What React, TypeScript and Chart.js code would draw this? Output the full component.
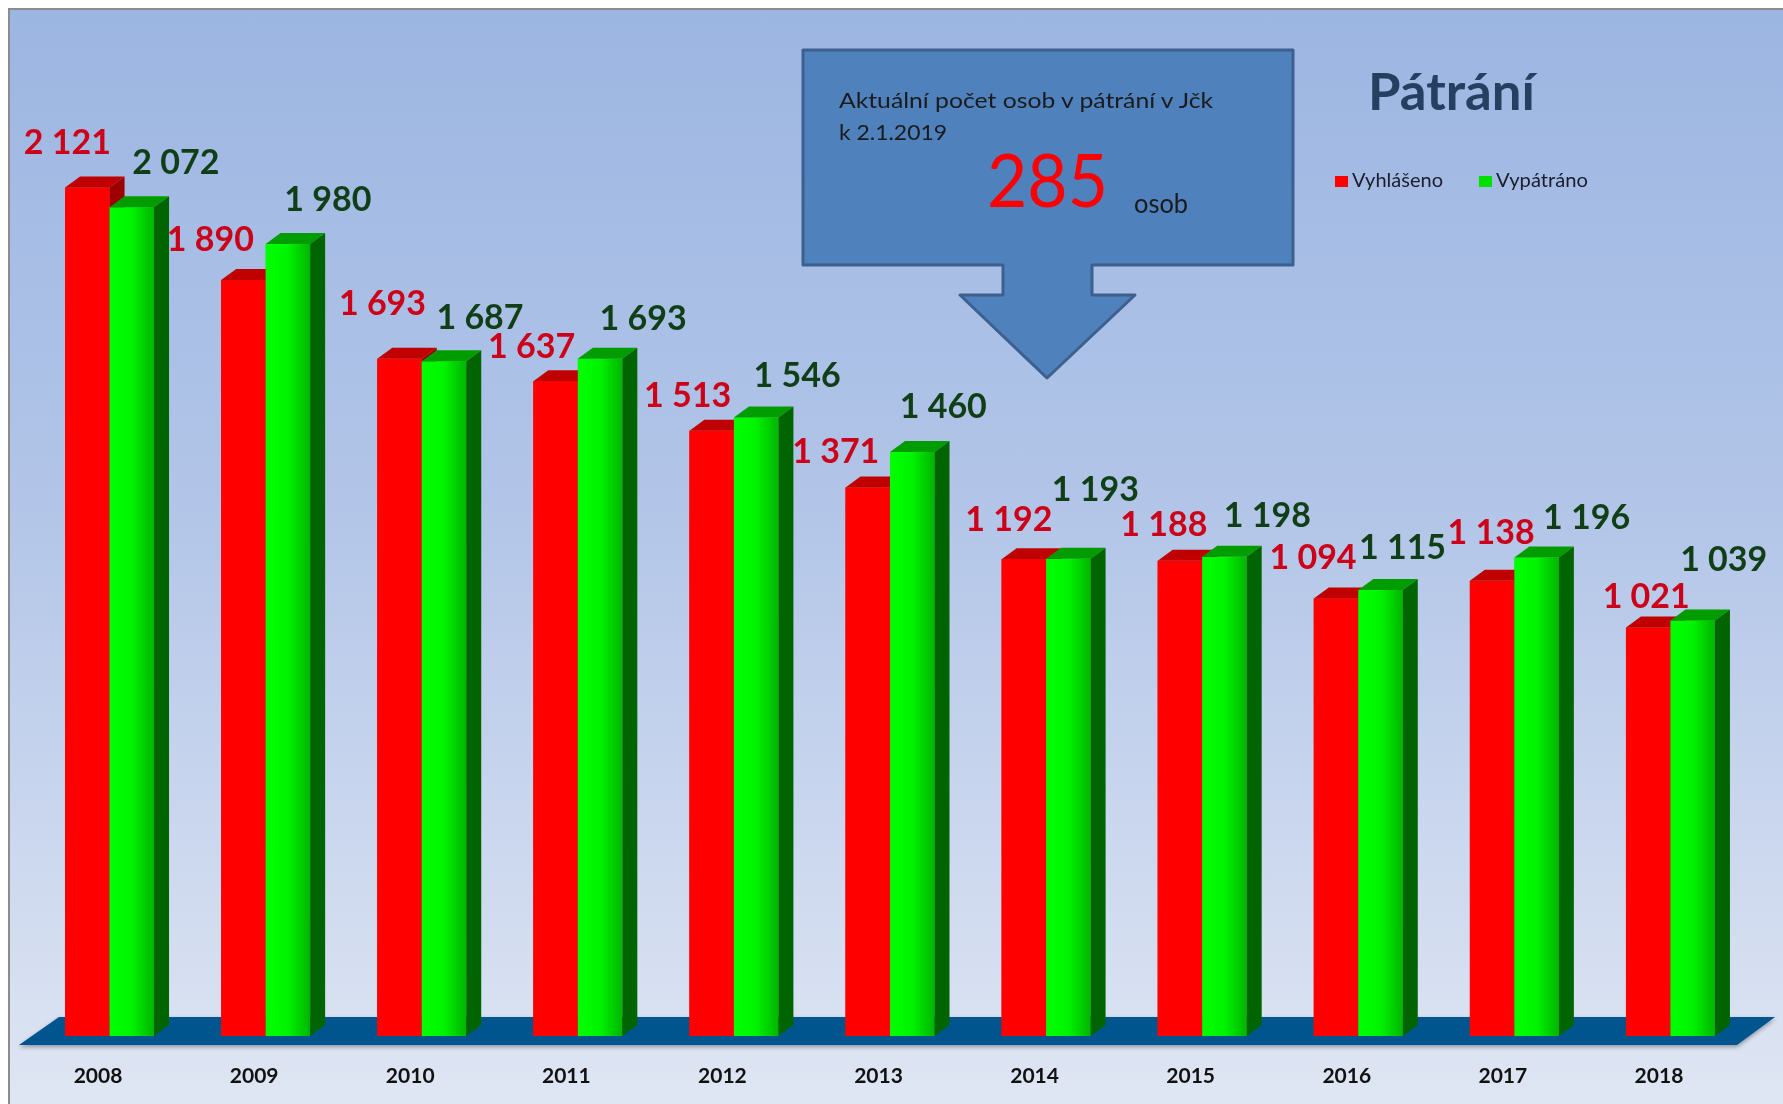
import React, { useEffect, useRef } from "react";
import { Chart, registerables } from "chart.js";

Chart.register(...registerables);

// ---- data ----
const years = ["2008", "2009", "2010", "2011", "2012", "2013", "2014", "2015", "2016", "2017", "2018"];
const vyhlaseno = [2121, 1890, 1693, 1637, 1513, 1371, 1192, 1188, 1094, 1138, 1021];
const vypatrano = [2072, 1980, 1687, 1693, 1546, 1460, 1193, 1198, 1115, 1196, 1039];
const seriesNames = ["Vyhlášeno", "Vypátráno"];
const chartTitle = "Pátrání";
const calloutLines = ["Aktuální počet osob v pátrání v Jčk", "k 2.1.2019"];
const calloutValue = "285";
const calloutUnit = "osob";

// ---- styling ----
const DX = 15;
const DY = -11;
const FONT = "Lato, 'Open Sans', sans-serif";
const faceColors = [
  { front: "#ff0000", top: "#c00000", side: "#9c0000", label: "rgb(204,0,24)" },
  { front: "#00ff00", top: "#009c00", side: "#006400", label: "rgb(16,62,22)" },
];
// manual data-label placement (pixels relative to bar top centre), as in the original
const redLabelShift = [[-20, -45], [-33, -40], [-17, -55], [-24, -34], [-24, -35], [-32, -36], [-15, -39], [-16, -36], [-23, -40], [-1, -48], [-2, -31]];
const greenLabelShift = [[44, -44], [40, -44], [36, -43], [43, -40], [41, -42], [31, -45], [27, -69], [43, -41], [22, -42], [50, -40], [31, -60]];
const labelShifts = [redLabelShift, greenLabelShift];

const fmt = (n: number) => String(n).replace(/\B(?=(\d{3})+(?!\d))/g, " ");

const floorPlugin = {
  id: "floor3d",
  beforeDatasetsDraw(chart: any) {
    const { ctx, chartArea } = chart;
    const base = chart.scales.y.getPixelForValue(0);
    const l = chartArea.left;
    const r = chartArea.right;
    ctx.save();
    ctx.shadowColor = "rgba(0,0,0,0.35)";
    ctx.shadowBlur = 4;
    ctx.shadowOffsetY = 2;
    ctx.fillStyle = "#00558f";
    ctx.beginPath();
    ctx.moveTo(l - 12.5, base + 9);
    ctx.lineTo(l + 27.5, base - 19);
    ctx.lineTo(r + 26.5, base - 19);
    ctx.lineTo(r - 11.5, base + 9);
    ctx.closePath();
    ctx.fill();
    ctx.restore();
  },
};

const bar3dPlugin = {
  id: "bar3d",
  afterDatasetsDraw(chart: any) {
    const { ctx } = chart;
    const n = chart.data.labels.length;
    ctx.save();
    for (let i = 0; i < n; i++) {
      for (let d = 0; d < chart.data.datasets.length; d++) {
        const meta = chart.getDatasetMeta(d);
        const el = meta.data[i];
        if (!el) continue;
        const { x, y, base, width } = el.getProps(["x", "y", "base", "width"], true);
        const left = x - width / 2;
        const right = x + width / 2;
        const c = faceColors[d];
        if (d === 1) {
          const g = ctx.createLinearGradient(left, 0, right, 0);
          g.addColorStop(0, "#00ff00");
          g.addColorStop(0.5, "#00f400");
          g.addColorStop(1, "#00b400");
          ctx.fillStyle = g;
        } else {
          ctx.fillStyle = c.front;
        }
        ctx.fillRect(left, y, width, base - y);
        ctx.fillStyle = c.top;
        ctx.beginPath();
        ctx.moveTo(left, y);
        ctx.lineTo(left + DX, y + DY);
        ctx.lineTo(right + DX, y + DY);
        ctx.lineTo(right, y);
        ctx.closePath();
        ctx.fill();
        ctx.fillStyle = c.side;
        ctx.beginPath();
        ctx.moveTo(right, y);
        ctx.lineTo(right + DX, y + DY);
        ctx.lineTo(right + DX, base + DY);
        ctx.lineTo(right, base);
        ctx.closePath();
        ctx.fill();
      }
    }
    ctx.font = `bold 34px ${FONT}`;
    ctx.textAlign = "center";
    ctx.textBaseline = "middle";
    for (let d = 0; d < chart.data.datasets.length; d++) {
      const meta = chart.getDatasetMeta(d);
      const vals = chart.data.datasets[d].data;
      meta.data.forEach((el: any, i: number) => {
        const { x, y } = el.getProps(["x", "y"], true);
        const s = labelShifts[d][i];
        ctx.fillStyle = faceColors[d].label;
        ctx.fillText(fmt(vals[i]), x + s[0], y + s[1]);
      });
    }
    ctx.restore();
  },
};

export default function App() {
  const ref = useRef<HTMLCanvasElement | null>(null);

  useEffect(() => {
    document.documentElement.style.overflow = "hidden";
    document.body.style.overflow = "hidden";
    const canvas = ref.current;
    if (!canvas) return;
    const chart = new Chart(canvas, {
      type: "bar",
      data: {
        labels: years,
        datasets: [
          { label: seriesNames[0], data: vyhlaseno, backgroundColor: faceColors[0].front, borderWidth: 0 },
          { label: seriesNames[1], data: vypatrano, backgroundColor: faceColors[1].front, borderWidth: 0 },
        ],
      },
      options: {
        responsive: false,
        animation: false,
        devicePixelRatio: 1,
        layout: { padding: { left: 21.5, right: 34.5, top: 66, bottom: 4 } },
        datasets: { bar: { categoryPercentage: 0.5702, barPercentage: 1 } },
        plugins: {
          legend: { display: false },
          tooltip: { enabled: false },
          title: { display: false },
        },
        scales: {
          x: {
            grid: { display: false, drawTicks: false },
            border: { display: false },
            ticks: {
              color: "#111111",
              font: { family: FONT, weight: "bold", size: 21 },
              padding: 27.4,
              labelOffset: -11.5,
            },
          },
          y: { display: false, min: 0, max: 2400 },
        },
      },
      plugins: [floorPlugin, bar3dPlugin],
    });
    return () => chart.destroy();
  }, []);

  return (
    <div
      style={{
        position: "absolute",
        left: 8,
        top: 8,
        width: 1775,
        height: 1096,
        boxSizing: "border-box",
        borderTop: "2px solid #8c8c8c",
        borderLeft: "2px solid #8c8c8c",
        background: "linear-gradient(to bottom, #9cb6e2 0%, #b2c5e8 45%, #dfe6f3 100%)",
        overflow: "hidden",
      }}
    >
      <canvas ref={ref} width={1773} height={1110} style={{ position: "absolute", left: 0, top: 0, width: 1773, height: 1110 }} />
      <svg width={1773} height={1094} style={{ position: "absolute", left: 0, top: 0 }}>
        <g transform="translate(-10,-10)">
          <polygon
            points="803,50 1293,50 1293,265 1092,265 1092,295 1135,295 1047,378 960,295 1003,295 1003,265 803,265"
            fill="#4f81bd"
            stroke="#3d6090"
            strokeWidth={3}
            strokeLinejoin="round"
          />
          <text x={839} y={108} fontFamily={FONT} fontSize={21} fill="#1b1b1b" textLength={374} lengthAdjust="spacingAndGlyphs">
            {calloutLines[0]}
          </text>
          <text x={839} y={140} fontFamily={FONT} fontSize={21} fill="#1b1b1b" textLength={108} lengthAdjust="spacingAndGlyphs">
            {calloutLines[1]}
          </text>
          <text x={987} y={207} fontFamily={FONT} fontSize={74} fill="#ff0000" textLength={121} lengthAdjust="spacingAndGlyphs">
            {calloutValue}
          </text>
          <text x={1134} y={213} fontFamily={FONT} fontSize={26} fill="#1b1b1b" textLength={54} lengthAdjust="spacingAndGlyphs">
            {calloutUnit}
          </text>
          <text x={1368} y={110} fontFamily={FONT} fontWeight="bold" fontSize={51} fill="#243f60" textLength={167} lengthAdjust="spacingAndGlyphs">
            {chartTitle}
          </text>
          <rect x={1335} y={176} width={13} height={11} fill="#ff0000" />
          <text x={1352} y={187} fontFamily={FONT} fontSize={19} fill="#1c1c2c" textLength={91} lengthAdjust="spacingAndGlyphs">
            {seriesNames[0]}
          </text>
          <rect x={1479} y={176} width={13} height={11} fill="#00e000" />
          <text x={1496} y={187} fontFamily={FONT} fontSize={19} fill="#1c1c2c" textLength={92} lengthAdjust="spacingAndGlyphs">
            {seriesNames[1]}
          </text>
        </g>
      </svg>
    </div>
  );
}
